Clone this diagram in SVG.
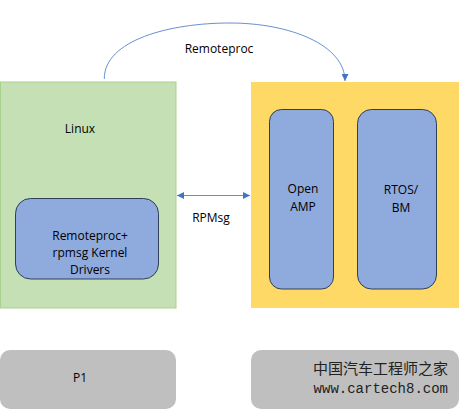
<svg xmlns="http://www.w3.org/2000/svg" width="459" height="410" viewBox="0 0 459 410">
<style>
text{font-family:"Open Sans","Liberation Sans",sans-serif;font-size:12px;fill:#000;text-anchor:middle}
.blue{fill:#8FAADC;stroke:#2F3E5A;stroke-width:1}
.conn{fill:none;stroke:#4472C4;stroke-width:0.8}
</style>
<defs>
<marker id="ah" viewBox="0 0 10 10" refX="10" refY="5" markerWidth="7" markerHeight="7" orient="auto-start-reverse" markerUnits="userSpaceOnUse">
<path d="M0,0 L10,5 L0,10 Z" fill="#4472C4"/>
</marker>
</defs>
<rect width="459" height="410" fill="#fff"/>
<g id="linux">
<rect x="0.5" y="82" width="175.5" height="226" fill="#C5E0B4" stroke="#A9D18E" stroke-width="1"/>
<text x="80" y="133">Linux</text>
</g>
<g id="drivers">
<rect class="blue" x="15.5" y="198.5" width="143" height="80.5" rx="15"/>
<text x="90" y="240">Remoteproc+</text>
<text x="90" y="257">rpmsg Kernel</text>
<text x="90" y="274">Drivers</text>
</g>
<g id="remote">
<rect x="251" y="82" width="208" height="226" fill="#FFD966"/>
</g>
<g id="openamp">
<rect class="blue" x="269.5" y="109.5" width="64" height="179.5" rx="12"/>
<text x="303" y="193">Open</text>
<text x="303" y="211">AMP</text>
</g>
<g id="rtos">
<rect class="blue" x="357.5" y="109.5" width="79" height="179.5" rx="14"/>
<text x="401" y="194">RTOS/</text>
<text x="401" y="212">BM</text>
</g>
<g id="p1">
<rect x="0" y="350" width="176" height="59" rx="10" fill="#BFBFBF"/>
<text x="80" y="382">P1</text>
</g>
<g id="p2">
<rect x="251" y="350" width="208" height="59" rx="10" fill="#BFBFBF"/>
<text x="448" y="374" style="text-anchor:end;font-family:'Noto Sans CJK SC',sans-serif;font-size:15px;fill:#222">中国汽车工程师之家</text>
<text x="448" y="393" style="text-anchor:end;font-family:'Liberation Mono',monospace;font-size:14px;fill:#222">www.cartech8.com</text>
</g>
<g id="connectors">
<path class="conn" d="M104.3,79 C104,40 170,23 230,23 C290,23 345,45 345,81" marker-end="url(#ah)"/>
<line class="conn" x1="177" y1="195.5" x2="250" y2="195.5" marker-start="url(#ah)" marker-end="url(#ah)"/>
<text x="219" y="53">Remoteproc</text>
<text x="211" y="222">RPMsg</text>
</g>
</svg>
